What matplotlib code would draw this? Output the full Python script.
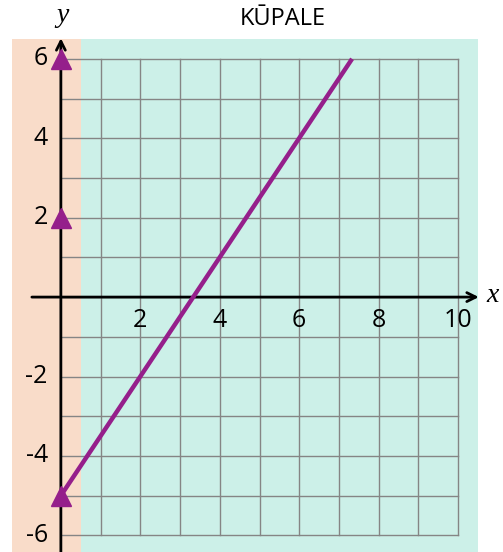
import matplotlib
matplotlib.use("Agg")
import matplotlib.pyplot as plt

title = "KŪPALE"
x_ticks = [2, 4, 6, 8, 10]
y_ticks = [6, 4, 2, -2, -4, -6]
grid_x = list(range(1, 11))
grid_y = list(range(-6, 7))
line_x = [0, 7.33]
line_y = [-5, 6]
point_x = [0, 0, 0]
point_y = [6, 2, -5]

PEACH = "#F9DCC9"
TEAL = "#CCF0E8"
PURPLE = "#951F8B"
GRID = "#858585"

fig = plt.figure(figsize=(5.03, 5.52), dpi=100)
W, H = 503, 552
ax = fig.add_axes([12 / W, 0, 466 / W, (H - 39) / H])
ax.set_xlim(-1.23, 10.5)
ax.set_ylim(-6.42, 6.5)
ax.axis("off")

ax.axvspan(-1.23, 0.5, color=PEACH, zorder=0, lw=0)
ax.axvspan(0.5, 10.5, color=TEAL, zorder=0, lw=0)

for gx in grid_x:
    ax.plot([gx, gx], [min(grid_y), max(grid_y)], color=GRID, lw=1.0, zorder=1)
for gy in grid_y:
    ax.plot([0, max(grid_x)], [gy, gy], color=GRID, lw=1.0, zorder=1)

# axes with arrows
ax.annotate("", xy=(10.52, 0), xytext=(-0.73, 0), annotation_clip=False,
            arrowprops=dict(arrowstyle="->", lw=2, color="black",
                            mutation_scale=16, shrinkA=0, shrinkB=0), zorder=3)
ax.annotate("", xy=(0, 6.52), xytext=(0, -6.6), annotation_clip=False,
            arrowprops=dict(arrowstyle="->", lw=2, color="black",
                            mutation_scale=16, shrinkA=0, shrinkB=0), zorder=3)

ax.plot(line_x, line_y, color=PURPLE, lw=3.2, solid_capstyle="butt", zorder=4)
ax.plot(point_x, point_y, linestyle="none", marker="^", markersize=15,
        color=PURPLE, zorder=5, clip_on=False)

font = "Open Sans"
for t in x_ticks:
    ax.text(t, -0.58, str(t), ha="center", va="center", fontsize=18,
            family=font, zorder=6)
for t in y_ticks:
    ax.text(-0.33, t, str(t), ha="right", va="center", fontsize=18,
            family=font, zorder=6)

fig.text(283 / W, 1 - 19 / H, title, ha="center", va="center", fontsize=17,
         family=font)
fig.text(62 / W, 1 - 16 / H, "y", ha="center", va="center", fontsize=20,
         family="Liberation Serif", style="italic")
fig.text(493 / W, 1 - 295 / H, "x", ha="center", va="center", fontsize=20,
         family="Liberation Serif", style="italic")

fig.savefig("out.png", dpi=100)
